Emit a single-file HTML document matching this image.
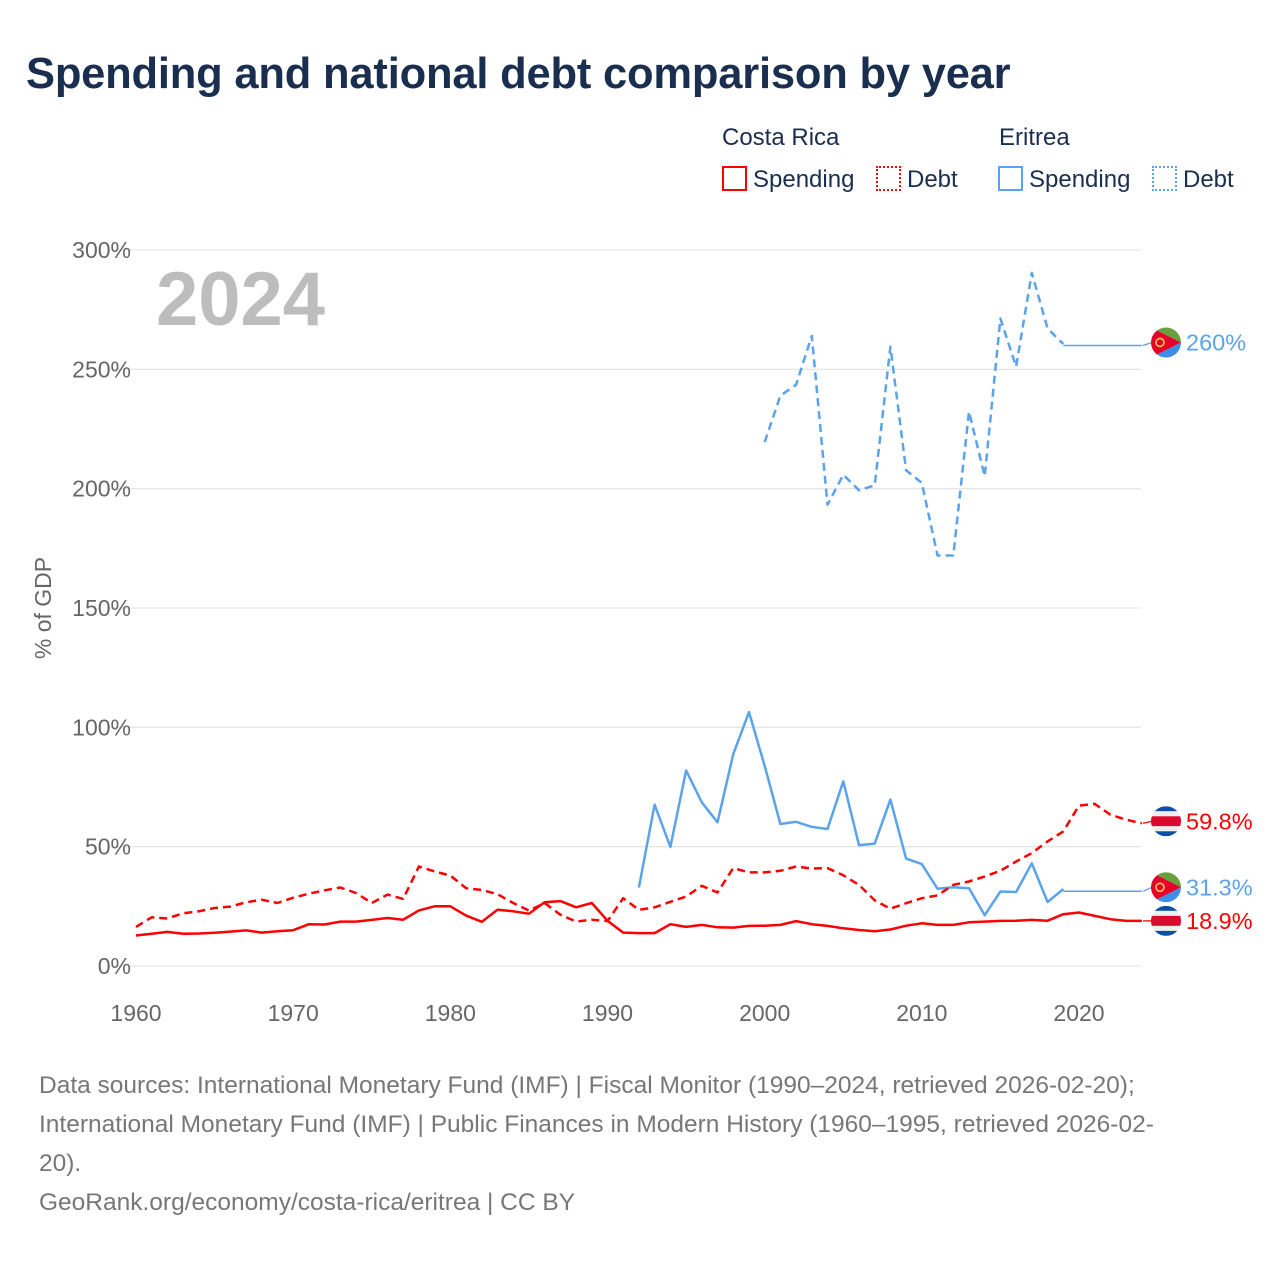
<!DOCTYPE html>
<html><head><meta charset="utf-8"><style>
html,body{margin:0;padding:0;background:#fff;width:1280px;height:1280px;overflow:hidden;font-family:"Liberation Sans",sans-serif;}
.t{position:absolute;white-space:nowrap;}
</style></head><body>
<div class="t" style="left:26px;top:50px;font-size:43.5px;font-weight:bold;color:#1a2e4f;letter-spacing:-0.2px;">Spending and national debt comparison by year</div>
<div class="t" style="left:722px;top:124px;font-size:24px;color:#1a2e4f;">Costa Rica</div>
<div class="t" style="left:999px;top:124px;font-size:24px;color:#1a2e4f;">Eritrea</div>
<div class="t" style="left:722px;top:166px;font-size:24px;color:#1a2e4f;"><span style="display:inline-block;width:21px;height:21px;border:2px solid #f00;vertical-align:-4px;margin-right:6px;"></span>Spending</div>
<div class="t" style="left:876px;top:166px;font-size:24px;color:#1a2e4f;"><span style="display:inline-block;width:21px;height:21px;border:2px dotted #f00;vertical-align:-4px;margin-right:6px;"></span>Debt</div>
<div class="t" style="left:998px;top:166px;font-size:24px;color:#1a2e4f;"><span style="display:inline-block;width:21px;height:21px;border:2px solid #5ba3ea;vertical-align:-4px;margin-right:6px;"></span>Spending</div>
<div class="t" style="left:1152px;top:166px;font-size:24px;color:#1a2e4f;"><span style="display:inline-block;width:21px;height:21px;border:2px dotted #5ba3ea;vertical-align:-4px;margin-right:6px;"></span>Debt</div>

<svg id="chart" width="1280" height="1280" style="position:absolute;left:0;top:0;" xmlns="http://www.w3.org/2000/svg"></svg>

<div class="t" style="left:39px;top:1066px;font-size:24.5px;line-height:39px;color:#777;">Data sources: International Monetary Fund (IMF) | Fiscal Monitor (1990–2024, retrieved 2026-02-20);<br>International Monetary Fund (IMF) | Public Finances in Modern History (1960–1995, retrieved 2026-02-<br>20).<br>GeoRank.org/economy/costa-rica/eritrea | CC BY</div>

<script>
const years = [];
for (let y = 1960; y <= 2024; y++) years.push(y);
const yTicks = [0, 50, 100, 150, 200, 250, 300];
const xTicks = [1960, 1970, 1980, 1990, 2000, 2010, 2020];
const crSpending = [12.8,13.5,14.3,13.5,13.6,13.9,14.4,14.9,14.0,14.6,15.0,17.5,17.4,18.6,18.6,19.3,20.1,19.4,23.3,25.0,25.0,21.1,18.5,23.6,22.9,21.9,26.7,27.2,24.6,26.4,19.0,14.0,13.8,13.8,17.5,16.4,17.2,16.2,16.1,16.8,16.9,17.2,18.8,17.5,16.8,15.8,15.1,14.6,15.3,16.9,17.9,17.2,17.2,18.3,18.6,18.9,19.0,19.3,19.0,21.7,22.4,21.0,19.6,18.9,18.9];
const crDebt = [16.4,20.4,19.9,22.1,22.9,24.3,24.9,26.7,27.8,26.4,28.6,30.3,31.7,32.9,30.6,26.4,29.9,28.1,41.7,39.6,37.9,32.6,31.9,30.1,26.4,23.2,26.4,21.5,18.6,19.4,18.8,28.4,23.5,24.6,26.9,29.1,33.6,30.8,41.0,39.2,39.2,39.9,41.7,40.8,41.0,38.0,34.0,27.5,24.0,26.3,28.4,29.6,34.0,35.4,37.5,39.9,43.8,47.3,52.2,56.4,67.2,67.9,63.4,61.3,59.8];
const erYears = [1992,1993,1994,1995,1996,1997,1998,1999,2000,2001,2002,2003,2004,2005,2006,2007,2008,2009,2010,2011,2012,2013,2014,2015,2016,2017,2018,2019];
const erSpending = [32.9,67.6,49.9,81.9,68.6,60.2,88.7,106.4,83.8,59.5,60.4,58.3,57.4,77.4,50.6,51.3,69.7,45.0,42.7,32.4,33.0,32.6,21.3,31.2,31.0,43.0,26.8,32.2];
const erDebtYears = [2000,2001,2002,2003,2004,2005,2006,2007,2008,2009,2010,2011,2012,2013,2014,2015,2016,2017,2018,2019];
const erDebt = [219.5,239,243.5,264,193.3,205.8,199.3,201.4,259.5,207.7,202.4,172,172,232.3,205.2,271.3,251.1,290.4,267.1,260.6];
const erSpendingLatest = 31.3;
const erDebtLatest = 260;
const latestYear = 2024;

const NS = "http://www.w3.org/2000/svg";
const svg = document.getElementById('chart');
const X0 = 136, PXY = (1079 - 136) / 60, Y0 = 966, PXV = 716 / 300;
function xs(yr) { return X0 + (yr - 1960) * PXY; }
function ys(v) { return Y0 - v * PXV; }
function mk(tag, attrs) { const e = document.createElementNS(NS, tag); for (const k in attrs) e.setAttribute(k, attrs[k]); svg.appendChild(e); return e; }

yTicks.forEach(v => {
  const g = mk('line', {x1: 108, x2: 1141, y1: ys(v), y2: ys(v), stroke: '#e6e6e6', 'stroke-width': 1.3});
  
  
  const t = mk('text', {x: 131, y: ys(v) + 8, 'text-anchor': 'end', 'font-size': 23, fill: '#666', 'font-family': 'Liberation Sans, sans-serif'});
  t.textContent = v + '%';
  
  
});
xTicks.forEach(yr => {
  const t = mk('text', {x: xs(yr), y: 1021, 'text-anchor': 'middle', 'font-size': 23, fill: '#666', 'font-family': 'Liberation Sans, sans-serif'});
  t.textContent = yr;
  
  
});
const yt = mk('text', {x: 0, y: 0, transform: 'translate(51,608) rotate(-90)', 'text-anchor': 'middle', 'font-size': 23, fill: '#666', 'font-family': 'Liberation Sans, sans-serif'});
yt.textContent = '% of GDP';


const yr = mk('text', {x: 156, y: 325, 'font-size': 76, 'font-weight': 'bold', fill: '#bdbdbd', 'font-family': 'Liberation Sans, sans-serif'});
yr.textContent = '2024';



function path(xsArr, vals, color, dash, w, name) {
  let d = '';
  vals.forEach((v, i) => { d += (i ? 'L' : 'M') + xs(xsArr[i]).toFixed(1) + ',' + ys(v).toFixed(1); });
  const p = mk('path', {d: d, fill: 'none', stroke: color, 'stroke-width': w, 'stroke-linejoin': 'round'});
  if (dash) p.setAttribute('stroke-dasharray', dash);
  
  
}
const RED = '#ff0000', BLUE = '#5ba3ea';
path(erDebtYears, erDebt, BLUE, '8,5', 2.5, 'eritrea-debt-line');
path([2019, latestYear], [erDebtLatest, erDebtLatest], BLUE, null, 1.5, 'eritrea-debt-projection');
path(erYears, erSpending, BLUE, null, 2.5, 'eritrea-spending-line');
path([2019, latestYear], [erSpendingLatest, erSpendingLatest], BLUE, null, 1.5, 'eritrea-spending-projection');
path(years, crDebt, RED, '8,5', 2.5, 'costa-rica-debt-line');
path(years, crSpending, RED, null, 2.5, 'costa-rica-spending-line');

function flagCR(cx, cy, name) {
  const g = document.createElementNS(NS, 'g'); svg.appendChild(g);
  
  
  const id = 'c' + Math.round(cy);
  const cp = document.createElementNS(NS, 'clipPath'); cp.setAttribute('id', id);
  const c = document.createElementNS(NS, 'circle'); c.setAttribute('cx', cx); c.setAttribute('cy', cy); c.setAttribute('r', 15); cp.appendChild(c); g.appendChild(cp);
  const bands = [['#0b4fa6', 5], ['#eeeeee', 5], ['#da0a2c', 10], ['#eeeeee', 5], ['#0b4fa6', 5]];
  let yy = cy - 15;
  bands.forEach(b => { const r = document.createElementNS(NS, 'rect'); r.setAttribute('x', cx - 15); r.setAttribute('y', yy); r.setAttribute('width', 30); r.setAttribute('height', b[1]); r.setAttribute('fill', b[0]); r.setAttribute('clip-path', 'url(#' + id + ')'); g.appendChild(r); yy += b[1]; });
}
function flagER(cx, cy, name) {
  const g = document.createElementNS(NS, 'g'); svg.appendChild(g);
  
  
  const id = 'e' + Math.round(cy);
  const cp = document.createElementNS(NS, 'clipPath'); cp.setAttribute('id', id);
  const c = document.createElementNS(NS, 'circle'); c.setAttribute('cx', cx); c.setAttribute('cy', cy); c.setAttribute('r', 15); cp.appendChild(c); g.appendChild(cp);
  const polys = [['#6a9f3e', [[-15,-15],[15,-15],[15,0]]], ['#3d8ee8', [[-15,15],[15,15],[15,0]]], ['#e4002b', [[-15,-15],[15,0],[-15,15]]]];
  polys.forEach(p => { const e = document.createElementNS(NS, 'polygon'); e.setAttribute('points', p[1].map(q => (cx + q[0]) + ',' + (cy + q[1])).join(' ')); e.setAttribute('fill', p[0]); e.setAttribute('clip-path', 'url(#' + id + ')'); g.appendChild(e); });
  const o = document.createElementNS(NS, 'circle'); o.setAttribute('cx', cx - 6); o.setAttribute('cy', cy); o.setAttribute('r', 4); o.setAttribute('fill', 'none'); o.setAttribute('stroke', '#f5c84c'); o.setAttribute('stroke-width', 1.6); g.appendChild(o);
}
function endLabel(v, color, isCR, yOff, name) {
  const cy = ys(v) + yOff;
  const ln = mk('line', {x1: 1143, x2: 1152, y1: ys(v), y2: cy, stroke: color, 'stroke-width': 1.3});
  
  
  if (isCR) flagCR(1166, cy, name + '-flag'); else flagER(1166, cy, name + '-flag');
  const t = mk('text', {x: 1186, y: cy + 8, 'font-size': 23.5, fill: color, 'font-family': 'Liberation Sans, sans-serif'});
  t.textContent = (v >= 100 ? Math.round(v) : v.toFixed(1)) + '%';
  
  
}
endLabel(erDebtLatest, BLUE, false, -3, 'eritrea-debt-end');
endLabel(crDebt[crDebt.length - 1], RED, true, -2, 'costa-rica-debt-end');
endLabel(erSpendingLatest, BLUE, false, -4, 'eritrea-spending-end');
endLabel(crSpending[crSpending.length - 1], RED, true, 0, 'costa-rica-spending-end');
</script>
</body></html>
